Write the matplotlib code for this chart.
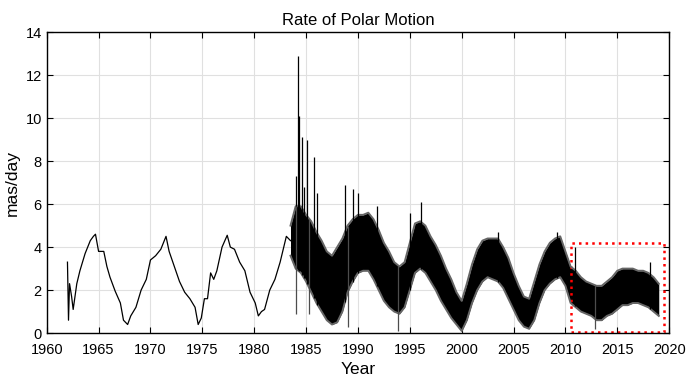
import matplotlib
matplotlib.use("Agg")
import matplotlib.pyplot as plt
from matplotlib.patches import Rectangle
import numpy as np

plt.rcParams['font.family'] = ['Liberation Sans', 'DejaVu Sans']

# sparse early record
early_year = [1962.0, 1962.1, 1962.2, 1962.4, 1962.55, 1962.9, 1963.2, 1963.7, 1964.2, 1964.5,
              1964.7, 1965.0, 1965.5, 1965.8, 1966.1, 1966.6, 1967.1, 1967.4, 1967.8, 1968.1,
              1968.6, 1969.1, 1969.6, 1970.0, 1970.5, 1971.0, 1971.5, 1971.8, 1972.3, 1972.8,
              1973.3, 1973.8, 1974.3, 1974.6, 1974.9, 1975.2, 1975.5, 1975.8, 1976.1, 1976.4,
              1976.9, 1977.4, 1977.7, 1978.1, 1978.6, 1979.1, 1979.6, 1980.1, 1980.4, 1980.7,
              1981.0, 1981.5, 1982.0, 1982.5, 1982.8, 1983.1, 1983.5]
early_val = [3.3, 0.6, 2.3, 1.7, 1.1, 2.3, 2.9, 3.7, 4.3, 4.5,
             4.6, 3.8, 3.8, 3.1, 2.6, 1.95, 1.4, 0.6, 0.4, 0.8,
             1.2, 2.0, 2.5, 3.4, 3.6, 3.9, 4.5, 3.8, 3.1, 2.4,
             1.9, 1.6, 1.2, 0.4, 0.7, 1.6, 1.6, 2.8, 2.5, 2.9,
             4.0, 4.55, 4.0, 3.9, 3.3, 2.9, 1.9, 1.4, 0.8, 1.0,
             1.1, 2.0, 2.5, 3.3, 3.9, 4.5, 4.3]

# dense daily record: envelope every half year
dense_year = [1983.5 + 0.5 * i for i in range(72)]
dense_hi = [5.0, 5.9, 5.9, 5.5, 5.2, 4.7, 4.3, 3.8, 3.6, 4.0,
            4.4, 5.0, 5.3, 5.5, 5.5, 5.6, 5.3, 4.8, 4.2, 3.8,
            3.3, 3.1, 3.3, 4.2, 5.1, 5.2, 5.0, 4.5, 4.1, 3.6,
            3.0, 2.5, 1.9, 1.5, 2.3, 3.2, 3.9, 4.3, 4.4, 4.4,
            4.4, 4.0, 3.5, 2.8, 2.2, 1.7, 1.6, 2.4, 3.2, 3.8,
            4.2, 4.4, 4.5, 3.8, 3.1, 2.9, 2.6, 2.4, 2.3, 2.2,
            2.2, 2.4, 2.6, 2.9, 3.0, 3.0, 3.0, 2.9, 2.9, 2.8,
            2.6, 2.3]
dense_lo = [3.6, 3.0, 2.8, 2.4, 1.9, 1.4, 1.0, 0.6, 0.4, 0.5,
            1.0, 1.9, 2.4, 2.8, 2.9, 2.9, 2.5, 2.0, 1.5, 1.2,
            1.0, 0.9, 1.2, 2.0, 2.8, 3.0, 2.8, 2.4, 2.0, 1.5,
            1.1, 0.7, 0.4, 0.1, 0.6, 1.4, 2.0, 2.4, 2.6, 2.5,
            2.4, 2.1, 1.6, 1.1, 0.6, 0.3, 0.2, 0.6, 1.4, 2.0,
            2.3, 2.5, 2.6, 2.2, 1.4, 1.2, 1.0, 0.9, 0.8, 0.6,
            0.6, 0.8, 0.9, 1.1, 1.3, 1.3, 1.4, 1.4, 1.3, 1.2,
            1.0, 0.8]

# isolated spikes
spike_year = [1984.05, 1984.2, 1984.3, 1984.6, 1984.8, 1985.1, 1985.75, 1986.1, 1988.75,
              1989.5, 1990.0, 1991.8, 1995.0, 1996.1, 2003.5, 2009.2, 2010.9, 2018.2]
spike_top = [7.3, 12.9, 10.1, 9.1, 6.8, 9.0, 8.2, 6.5, 6.9,
             6.7, 6.5, 5.9, 5.6, 6.1, 4.7, 4.7, 4.0, 3.3]
dip_year = [1984.05, 1985.3, 1989.0, 1993.9, 2012.9]
dip_bottom = [0.9, 0.9, 0.3, 0.1, 0.2]

fig = plt.figure(figsize=(6.87, 3.82), dpi=100)
ax = fig.add_axes([0.068, 0.128, 0.906, 0.788])

ax.plot(early_year, early_val, color='black', lw=0.9)
ax.fill_between(dense_year, dense_lo, dense_hi, color='black', lw=0)
ax.plot(dense_year, dense_hi, color='0.4', lw=1.4)
ax.plot(dense_year, dense_lo, color='0.4', lw=1.4)
ax.vlines(spike_year, np.interp(spike_year, dense_year, dense_lo), spike_top,
          color='black', lw=0.9)
ax.vlines(dip_year, dip_bottom, np.interp(dip_year, dense_year, dense_hi),
          color='0.3', lw=0.9)

ax.add_patch(Rectangle((2010.5, 0.05), 9.0, 4.15, fill=False,
                       edgecolor='red', lw=1.8, linestyle=':'))

ax.set_xlim(1960, 2020)
ax.set_ylim(0, 14)
ax.set_xticks(range(1960, 2021, 5))
ax.set_yticks(range(0, 15, 2))
ax.grid(True, color='0.88', lw=0.8)
ax.set_axisbelow(True)
ax.tick_params(direction='in', top=True, right=True, labelsize=10.5, length=4)
ax.tick_params(axis='x', pad=7)
for s in ax.spines.values():
    s.set_linewidth(1.0)

ax.set_xlabel('Year', fontsize=12.5, labelpad=4)
ax.set_ylabel('mas/day', fontsize=12.5, labelpad=4)
ax.set_title('Rate of Polar Motion', fontsize=12, pad=5)

fig.savefig('out.png', dpi=100)
